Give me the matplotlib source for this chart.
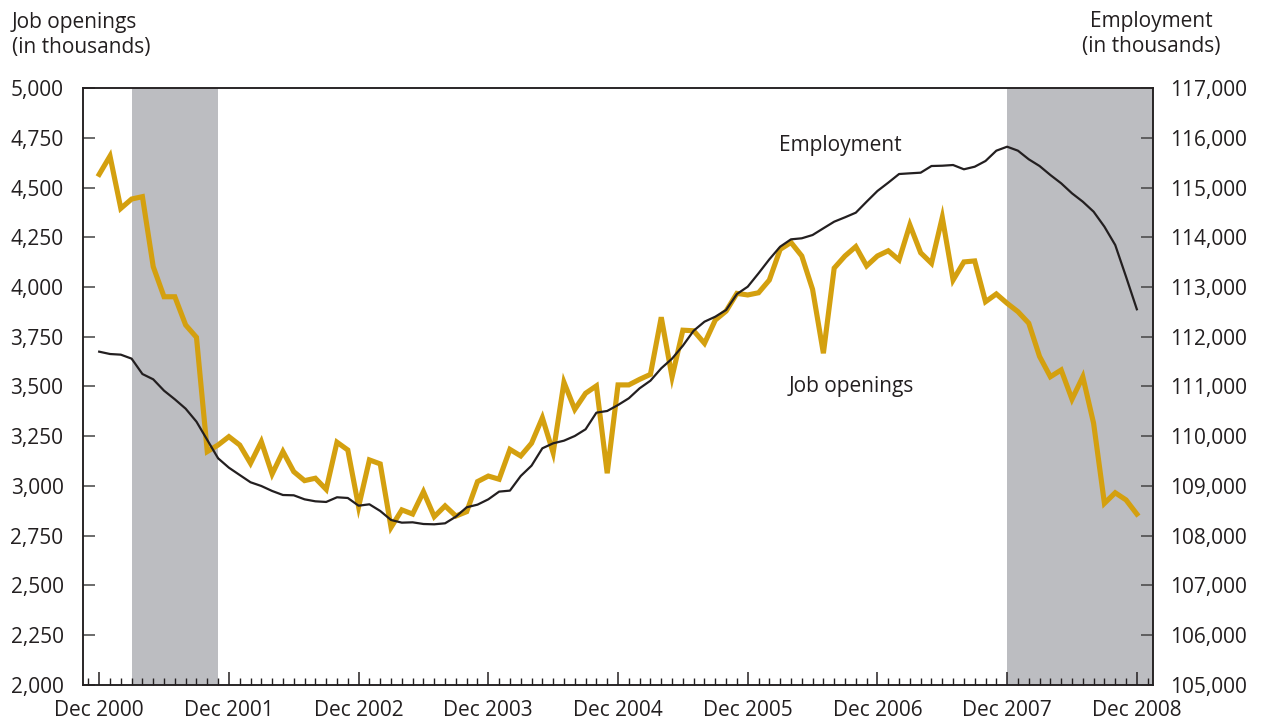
import matplotlib
matplotlib.use("Agg")
import matplotlib.pyplot as plt
from matplotlib.ticker import FuncFormatter, MultipleLocator

plt.rcParams['font.family'] = ['Open Sans', 'DejaVu Sans']

# monthly data, Dec 2000 .. Dec 2008 (index 0 = Dec 2000)
job_openings = [
    4566, 4658, 4395, 4442, 4454, 4102, 3951, 3951, 3809, 3747,
    3173, 3206, 3248, 3206, 3114, 3223, 3060, 3173, 3072, 3027,
    3039, 2983, 3220, 3181, 2896, 3131, 3111, 2792, 2880, 2859,
    2971, 2846, 2900, 2849, 2871, 3022, 3050, 3034, 3184, 3151,
    3215, 3343, 3167, 3521, 3385, 3466, 3503, 3064, 3508, 3508,
    3536, 3561, 3848, 3548, 3783, 3780, 3717, 3834, 3879, 3968,
    3960, 3971, 4035, 4189, 4224, 4156, 3988, 3667, 4095, 4156,
    4203, 4106, 4156, 4182, 4136, 4312, 4172, 4119, 4350, 4035,
    4126, 4131, 3926, 3965, 3918, 3876, 3818, 3651, 3549, 3583,
    3436, 3549, 3315, 2913, 2966, 2930, 2859,
]
employment = [
    111700, 111653, 111640, 111560, 111251, 111144, 110916, 110742, 110554, 110293,
    109925, 109557, 109368, 109221, 109075, 109000, 108900, 108819, 108813, 108732,
    108692, 108679, 108773, 108759, 108604, 108632, 108498, 108317, 108263, 108270,
    108236, 108230, 108250, 108384, 108572, 108625, 108732, 108887, 108907, 109201,
    109409, 109758, 109858, 109911, 110005, 110140, 110474, 110508, 110628, 110763,
    110964, 111117, 111366, 111560, 111820, 112122, 112303, 112403, 112538, 112859,
    113006, 113275, 113556, 113810, 113958, 113979, 114045, 114180, 114313, 114401,
    114494, 114715, 114930, 115097, 115271, 115285, 115298, 115432, 115438, 115452,
    115366, 115418, 115533, 115740, 115820, 115740, 115567, 115432, 115251, 115084,
    114883, 114715, 114514, 114212, 113844, 113207, 112552,
]
year_labels = ["Dec 2000", "Dec 2001", "Dec 2002", "Dec 2003", "Dec 2004",
               "Dec 2005", "Dec 2006", "Dec 2007", "Dec 2008"]
recessions = [(3, 11), (84, 97.5)]  # Mar 2001-Nov 2001, Dec 2007-

months = list(range(len(job_openings)))

gold = "#D4A00F"
dark = "#231F20"
shade = "#BCBDC1"
fs = 15

fig = plt.figure(figsize=(12.61, 7.19), dpi=100)
ax = fig.add_axes([0.0658, 0.0473, 0.8486, 0.8303])
ax2 = ax.twinx()

for start, end in recessions:
    ax.axvspan(start, end, color=shade, lw=0, zorder=0)

ax.plot(months, job_openings, color=gold, lw=3.7, solid_joinstyle="miter", zorder=3)
ax2.plot(months, employment, color=dark, lw=1.6, zorder=3)

ax.set_xlim(-1.5, 97.5)
ax.set_ylim(2000, 5000)
ax2.set_ylim(105000, 117000)

ax.set_xticks(range(0, 97, 12))
ax.set_xticklabels(year_labels)
ax.xaxis.set_minor_locator(MultipleLocator(1))
ax.yaxis.set_major_locator(MultipleLocator(250))
ax2.yaxis.set_major_locator(MultipleLocator(1000))
fmt = FuncFormatter(lambda v, p: f"{int(v):,}")
ax.yaxis.set_major_formatter(fmt)
ax2.yaxis.set_major_formatter(fmt)

ax.tick_params(axis="x", which="major", direction="in", length=9.5, width=1.1,
               color=dark, labelsize=fs, labelcolor=dark, pad=10.5)
ax.tick_params(axis="x", which="minor", direction="in", length=5, width=1.0, color=dark)
ax.tick_params(axis="y", direction="in", length=8.5, width=1.1, color="#444444",
               labelsize=fs, labelcolor=dark, pad=14)
ax2.tick_params(axis="y", direction="in", length=8.5, width=1.1, color="#444444",
                labelsize=fs, labelcolor=dark, pad=12)

for a in (ax, ax2):
    for s in a.spines.values():
        s.set_color(dark)
        s.set_linewidth(1.1)

ax2.text(68.6, 115850, "Employment", fontsize=fs, color=dark, ha="center", va="center")
ax2.text(69.6, 111010, "Job openings", fontsize=fs, color=dark, ha="center", va="center")

fig.text(12 / 1261, 1 - 35 / 719, "Job openings\n(in thousands)", fontsize=fs,
         color=dark, ha="left", va="center", linespacing=1.25)
fig.text(1151 / 1261, 1 - 34 / 719, "Employment\n(in thousands)", fontsize=fs,
         color=dark, ha="center", va="center", linespacing=1.25)

fig.savefig("out.png", dpi=100)
